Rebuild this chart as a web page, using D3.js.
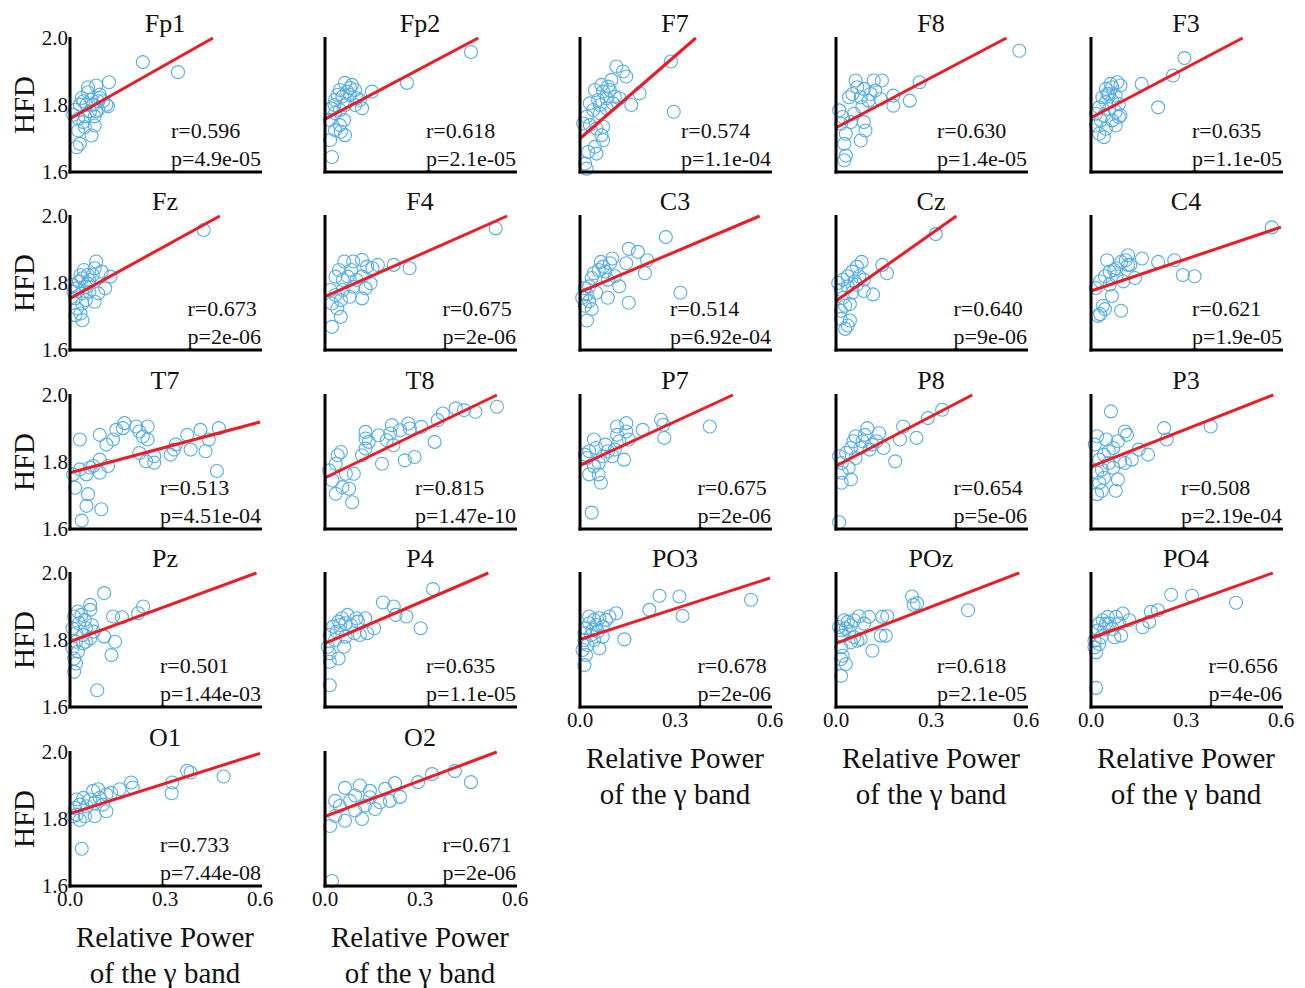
<!DOCTYPE html>
<html>
<head>
<meta charset="utf-8">
<script src="https://cdn.jsdelivr.net/npm/d3@7"></script>
<style>
  body { margin: 0; background: #fff; }
  text { font-family: "Times New Roman", "Liberation Serif", serif; fill: #111; }
</style>
</head>
<body>
<script>
// Channel names, stats text and regression fits
const channels = ["Fp1","Fp2","F7","F8","F3","Fz","F4","C3","Cz","C4","T7","T8","P7","P8","P3","Pz","P4","PO3","POz","PO4","O1","O2"];
const rText = ["0.596","0.618","0.574","0.630","0.635","0.673","0.675","0.514","0.640","0.621","0.513","0.815","0.675","0.654","0.508","0.501","0.635","0.678","0.618","0.656","0.733","0.671"];
const pText = ["4.9e-05","2.1e-05","1.1e-04","1.4e-05","1.1e-05","2e-06","2e-06","6.92e-04","9e-06","1.9e-05","4.51e-04","1.47e-10","2e-06","5e-06","2.19e-04","1.44e-03","1.1e-05","2e-06","2.1e-05","4e-06","7.44e-08","2e-06"];
const intercepts = [1.759,1.758,1.70,1.732,1.762,1.754,1.759,1.773,1.746,1.776,1.768,1.753,1.79,1.788,1.786,1.795,1.79,1.802,1.79,1.806,1.816,1.808];
const slopes = [0.534,0.50,0.82,0.498,0.497,0.52,0.419,0.40,0.668,0.318,0.252,0.455,0.435,0.493,0.372,0.348,0.407,0.305,0.363,0.338,0.30,0.354];

const xTicks = [0.0, 0.3, 0.6];
const yTicks = [1.6, 1.8, 2.0];

// scatter points [relative gamma power, HFD]
const Fp1 = [[0.230,1.928],[0.341,1.898],[0.123,1.868],[0.083,1.858],[0.057,1.853],[0.057,1.838],[0.037,1.821],[0.068,1.816],[0.094,1.821],[0.094,1.831],[0.104,1.811],[0.115,1.801],[0.120,1.796],[0.089,1.811],[0.073,1.801],[0.052,1.801],[0.031,1.801],[0.042,1.811],[0.016,1.786],[0.089,1.786],[0.063,1.781],[0.083,1.781],[0.010,1.771],[0.047,1.766],[0.078,1.766],[0.026,1.759],[0.042,1.749],[0.047,1.734],[0.078,1.739],[0.026,1.724],[0.068,1.709],[0.031,1.684],[0.021,1.674]];
const Fp2 = [[0.461,1.958],[0.259,1.866],[0.148,1.84],[0.063,1.866],[0.079,1.851],[0.047,1.845],[0.095,1.845],[0.079,1.83],[0.11,1.815],[0.032,1.815],[0.063,1.8],[0.095,1.8],[0.117,1.79],[0.047,1.785],[0.032,1.776],[0.016,1.755],[0.047,1.74],[0.032,1.725],[0.063,1.71],[0.016,1.695],[0.022,1.645],[0.055,1.825],[0.07,1.84],[0.04,1.83],[0.085,1.86],[0.1,1.82],[0.02,1.79],[0.06,1.755],[0.03,1.80],[0.05,1.72]];
const F7 = [[0.287,1.93],[0.296,1.78],[0.115,1.915],[0.136,1.90],[0.146,1.885],[0.099,1.875],[0.068,1.86],[0.047,1.845],[0.073,1.84],[0.094,1.845],[0.110,1.825],[0.084,1.82],[0.057,1.815],[0.125,1.82],[0.162,1.80],[0.188,1.835],[0.042,1.785],[0.021,1.765],[0.063,1.775],[0.084,1.79],[0.031,1.74],[0.052,1.73],[0.068,1.71],[0.073,1.695],[0.047,1.675],[0.026,1.66],[0.052,1.655],[0.016,1.625],[0.021,1.61],[0.010,1.745],[0.073,1.735],[0.089,1.855],[0.104,1.805],[0.031,1.805],[0.063,1.80]];
const F8 = [[0.579,1.962],[0.264,1.868],[0.233,1.813],[0.181,1.828],[0.181,1.798],[0.145,1.873],[0.119,1.873],[0.124,1.843],[0.103,1.813],[0.088,1.848],[0.078,1.823],[0.052,1.833],[0.041,1.823],[0.062,1.873],[0.083,1.794],[0.057,1.774],[0.021,1.764],[0.016,1.744],[0.047,1.749],[0.088,1.749],[0.093,1.724],[0.078,1.694],[0.031,1.714],[0.026,1.684],[0.031,1.649],[0.026,1.635],[0.109,1.833],[0.140,1.818],[0.067,1.853],[0.010,1.784]];
const F3 = [[0.295,1.94],[0.259,1.888],[0.160,1.863],[0.212,1.793],[0.093,1.858],[0.083,1.868],[0.067,1.853],[0.047,1.848],[0.057,1.833],[0.078,1.828],[0.036,1.823],[0.067,1.813],[0.047,1.808],[0.088,1.803],[0.026,1.793],[0.057,1.788],[0.078,1.779],[0.016,1.774],[0.041,1.769],[0.088,1.764],[0.093,1.769],[0.067,1.754],[0.031,1.754],[0.016,1.739],[0.078,1.739],[0.047,1.729],[0.026,1.714],[0.041,1.704],[0.052,1.833],[0.062,1.863]];
const Fz = [[0.422,1.958],[0.128,1.819],[0.111,1.784],[0.083,1.864],[0.078,1.844],[0.1,1.834],[0.056,1.824],[0.039,1.814],[0.061,1.809],[0.028,1.804],[0.05,1.789],[0.022,1.784],[0.011,1.774],[0.039,1.769],[0.061,1.774],[0.089,1.769],[0.078,1.744],[0.05,1.749],[0.017,1.754],[0.039,1.739],[0.022,1.724],[0.033,1.709],[0.017,1.704],[0.039,1.689],[0.056,1.799],[0.033,1.824],[0.072,1.824],[0.006,1.794],[0.044,1.839]];
const F4 = [[0.539,1.963],[0.267,1.844],[0.217,1.854],[0.167,1.854],[0.15,1.844],[0.117,1.869],[0.089,1.864],[0.061,1.864],[0.083,1.839],[0.133,1.849],[0.044,1.839],[0.033,1.819],[0.056,1.809],[0.072,1.819],[0.1,1.809],[0.144,1.799],[0.128,1.784],[0.089,1.789],[0.056,1.779],[0.017,1.779],[0.033,1.764],[0.078,1.759],[0.117,1.754],[0.050,1.749],[0.022,1.739],[0.039,1.724],[0.05,1.699],[0.022,1.669],[0.117,1.819]];
const C3 = [[0.271,1.937],[0.154,1.902],[0.183,1.893],[0.212,1.868],[0.205,1.829],[0.146,1.859],[0.102,1.873],[0.095,1.859],[0.066,1.863],[0.059,1.839],[0.08,1.834],[0.11,1.82],[0.124,1.79],[0.088,1.81],[0.037,1.815],[0.029,1.79],[0.015,1.785],[0.022,1.766],[0.051,1.771],[0.088,1.756],[0.029,1.746],[0.015,1.732],[0.037,1.722],[0.022,1.688],[0.154,1.741],[0.317,1.771],[0.007,1.756],[0.073,1.849],[0.044,1.829]];
const Cz = [[0.315,1.946],[0.146,1.854],[0.161,1.829],[0.081,1.863],[0.066,1.849],[0.051,1.834],[0.073,1.82],[0.037,1.82],[0.022,1.81],[0.059,1.805],[0.088,1.81],[0.037,1.79],[0.015,1.78],[0.051,1.771],[0.088,1.776],[0.117,1.766],[0.022,1.756],[0.029,1.732],[0.015,1.717],[0.044,1.737],[0.015,1.693],[0.037,1.673],[0.029,1.663],[0.044,1.688],[0.066,1.795],[0.007,1.8]];
const C4 = [[0.571,1.966],[0.263,1.868],[0.212,1.863],[0.161,1.873],[0.117,1.883],[0.124,1.854],[0.139,1.815],[0.29,1.824],[0.327,1.82],[0.110,1.868],[0.095,1.863],[0.117,1.854],[0.051,1.868],[0.08,1.844],[0.059,1.834],[0.044,1.82],[0.08,1.82],[0.102,1.805],[0.029,1.805],[0.059,1.795],[0.015,1.785],[0.066,1.761],[0.037,1.732],[0.044,1.722],[0.029,1.707],[0.022,1.702],[0.095,1.717],[0.073,1.839]];
const T7 = [[0.031,1.867],[0.094,1.881],[0.136,1.867],[0.146,1.896],[0.172,1.916],[0.167,1.901],[0.209,1.906],[0.219,1.891],[0.245,1.906],[0.230,1.876],[0.245,1.867],[0.115,1.852],[0.219,1.827],[0.240,1.802],[0.266,1.798],[0.266,1.817],[0.318,1.822],[0.328,1.837],[0.334,1.852],[0.370,1.881],[0.381,1.837],[0.412,1.896],[0.438,1.867],[0.47,1.901],[0.428,1.832],[0.464,1.773],[0.031,1.778],[0.052,1.763],[0.073,1.788],[0.094,1.807],[0.094,1.768],[0.120,1.788],[0.016,1.723],[0.057,1.704],[0.052,1.669],[0.099,1.659],[0.037,1.625],[0.063,1.783],[0.010,1.763]];
const T8 = [[0.543,1.965],[0.475,1.95],[0.439,1.955],[0.413,1.96],[0.372,1.945],[0.356,1.925],[0.346,1.86],[0.304,1.905],[0.263,1.915],[0.268,1.9],[0.237,1.895],[0.211,1.91],[0.206,1.885],[0.216,1.85],[0.195,1.865],[0.169,1.88],[0.180,1.795],[0.138,1.86],[0.128,1.84],[0.128,1.89],[0.128,1.87],[0.117,1.82],[0.252,1.805],[0.283,1.815],[0.05,1.83],[0.04,1.82],[0.034,1.795],[0.013,1.775],[0.024,1.745],[0.066,1.765],[0.091,1.765],[0.055,1.725],[0.076,1.72],[0.034,1.705],[0.086,1.68]];
const P7 = [[0.41,1.906],[0.256,1.926],[0.263,1.911],[0.266,1.872],[0.198,1.896],[0.146,1.916],[0.117,1.906],[0.146,1.891],[0.117,1.881],[0.154,1.867],[0.124,1.862],[0.080,1.852],[0.044,1.867],[0.051,1.842],[0.088,1.832],[0.110,1.837],[0.102,1.817],[0.073,1.817],[0.029,1.832],[0.022,1.812],[0.059,1.797],[0.139,1.807],[0.029,1.763],[0.059,1.763],[0.066,1.738],[0.015,1.822],[0.037,1.649],[0.044,1.787]];
const P8 = [[0.335,1.956],[0.29,1.931],[0.254,1.872],[0.212,1.906],[0.202,1.867],[0.150,1.842],[0.187,1.802],[0.136,1.886],[0.099,1.901],[0.091,1.881],[0.062,1.877],[0.055,1.862],[0.084,1.862],[0.114,1.852],[0.106,1.837],[0.077,1.842],[0.047,1.842],[0.032,1.827],[0.062,1.812],[0.018,1.797],[0.018,1.768],[0.040,1.783],[0.047,1.748],[0.018,1.738],[0.010,1.62],[0.010,1.817],[0.128,1.862]];
const P3 = [[0.063,1.951],[0.378,1.906],[0.231,1.901],[0.239,1.867],[0.180,1.822],[0.151,1.837],[0.129,1.807],[0.107,1.891],[0.114,1.881],[0.085,1.862],[0.07,1.842],[0.019,1.877],[0.012,1.852],[0.048,1.867],[0.041,1.822],[0.026,1.807],[0.056,1.797],[0.092,1.802],[0.107,1.797],[0.034,1.777],[0.07,1.783],[0.019,1.768],[0.041,1.753],[0.085,1.748],[0.026,1.738],[0.034,1.714],[0.078,1.714],[0.019,1.704],[0.056,1.832]];
const Pz = [[0.108,1.94],[0.231,1.90],[0.215,1.88],[0.164,1.868],[0.136,1.87],[0.142,1.795],[0.131,1.755],[0.086,1.65],[0.064,1.905],[0.064,1.89],[0.025,1.885],[0.036,1.875],[0.013,1.87],[0.047,1.86],[0.069,1.845],[0.028,1.85],[0.05,1.835],[0.008,1.835],[0.075,1.825],[0.019,1.82],[0.041,1.815],[0.064,1.805],[0.108,1.81],[0.05,1.795],[0.019,1.795],[0.008,1.775],[0.025,1.765],[0.013,1.745],[0.019,1.73],[0.013,1.705],[0.041,1.79]];
const P4 = [[0.341,1.952],[0.183,1.912],[0.217,1.90],[0.223,1.875],[0.257,1.87],[0.302,1.835],[0.155,1.835],[0.133,1.82],[0.127,1.865],[0.099,1.865],[0.104,1.855],[0.071,1.875],[0.054,1.865],[0.043,1.855],[0.065,1.85],[0.048,1.845],[0.082,1.845],[0.026,1.84],[0.037,1.825],[0.015,1.815],[0.093,1.82],[0.065,1.81],[0.032,1.80],[0.06,1.78],[0.009,1.78],[0.015,1.76],[0.043,1.745],[0.015,1.735],[0.015,1.665],[0.11,1.815]];
const PO3 = [[0.54,1.92],[0.314,1.93],[0.251,1.932],[0.219,1.89],[0.324,1.872],[0.14,1.802],[0.114,1.88],[0.093,1.87],[0.082,1.86],[0.061,1.865],[0.045,1.86],[0.029,1.85],[0.051,1.845],[0.072,1.84],[0.019,1.835],[0.04,1.83],[0.014,1.82],[0.035,1.815],[0.072,1.81],[0.014,1.80],[0.045,1.80],[0.024,1.785],[0.061,1.775],[0.019,1.755],[0.014,1.725],[0.008,1.77],[0.056,1.825],[0.029,1.87]];
const POz = [[0.417,1.889],[0.24,1.93],[0.256,1.91],[0.245,1.905],[0.162,1.871],[0.146,1.869],[0.104,1.869],[0.073,1.871],[0.157,1.813],[0.141,1.813],[0.115,1.768],[0.089,1.849],[0.057,1.859],[0.037,1.854],[0.026,1.859],[0.047,1.844],[0.031,1.834],[0.016,1.829],[0.042,1.824],[0.021,1.813],[0.057,1.808],[0.068,1.798],[0.047,1.793],[0.078,1.803],[0.016,1.778],[0.021,1.753],[0.031,1.728],[0.016,1.743],[0.016,1.693],[0.010,1.839]];
const PO4 = [[0.458,1.911],[0.253,1.935],[0.319,1.932],[0.211,1.889],[0.189,1.884],[0.184,1.854],[0.163,1.838],[0.1,1.879],[0.121,1.859],[0.089,1.849],[0.079,1.869],[0.053,1.869],[0.037,1.859],[0.026,1.849],[0.058,1.849],[0.068,1.833],[0.042,1.833],[0.021,1.828],[0.095,1.813],[0.074,1.808],[0.032,1.808],[0.011,1.798],[0.026,1.788],[0.011,1.778],[0.016,1.763],[0.016,1.657],[0.047,1.849]];
const O1 = [[0.485,1.927],[0.37,1.944],[0.381,1.939],[0.323,1.909],[0.321,1.877],[0.193,1.909],[0.198,1.894],[0.157,1.889],[0.13,1.878],[0.115,1.873],[0.089,1.889],[0.073,1.884],[0.094,1.863],[0.063,1.858],[0.042,1.863],[0.021,1.858],[0.031,1.843],[0.016,1.833],[0.052,1.838],[0.078,1.848],[0.104,1.843],[0.115,1.823],[0.021,1.813],[0.047,1.808],[0.031,1.797],[0.078,1.808],[0.037,1.711],[0.010,1.808]];
const O2 = [[0.461,1.91],[0.41,1.943],[0.338,1.934],[0.294,1.91],[0.221,1.907],[0.19,1.89],[0.142,1.884],[0.11,1.9],[0.063,1.893],[0.079,1.854],[0.047,1.839],[0.032,1.809],[0.016,1.779],[0.022,1.615],[0.174,1.85],[0.237,1.866],[0.095,1.825],[0.126,1.84],[0.158,1.83],[0.205,1.854],[0.063,1.795],[0.095,1.87],[0.142,1.865],[0.032,1.854],[0.117,1.8]];

const points = [Fp1,Fp2,F7,F8,F3,Fz,F4,C3,Cz,C4,T7,T8,P7,P8,P3,Pz,P4,PO3,POz,PO4,O1,O2];

// layout
const W = 1305, H = 988;
const plotW = 190, plotH = 134;
const colX = [70, 325, 580, 836, 1091];
const rowY = [38, 216, 395, 573, 752];
const bottomRow = ["PO3","POz","PO4","O1","O2"];

const svg = d3.select("body").append("svg")
  .attr("width", W)
  .attr("height", H);

const x = d3.scaleLinear().domain([0, 0.6]).range([0, plotW]);
const y = d3.scaleLinear().domain([1.6, 2.0]).range([plotH, 0]);

channels.forEach(function(ch, i) {
  const col = i % 5, row = Math.floor(i / 5);
  const g = svg.append("g")
    .attr("transform", "translate(" + colX[col] + "," + rowY[row] + ")");

  // points
  g.selectAll("circle")
    .data(points[i])
    .enter().append("circle")
    .attr("cx", d => x(d[0]))
    .attr("cy", d => y(d[1]))
    .attr("r", 6.5)
    .style("fill", "none")
    .style("stroke", "#55aee6")
    .style("stroke-width", 1.1);

  // regression line, clipped at the top of the axis
  const b0 = intercepts[i], b1 = slopes[i];
  const xEnd = Math.min(0.6, (2.0 - b0) / b1);
  g.append("line")
    .attr("x1", x(0)).attr("y1", y(b0))
    .attr("x2", x(xEnd)).attr("y2", y(b0 + b1 * xEnd))
    .style("stroke", "#ec1c24")
    .style("stroke-width", 3);

  // axes
  g.append("line")
    .attr("x1", 0).attr("y1", -1).attr("x2", 0).attr("y2", plotH + 1.5)
    .style("stroke", "#000").style("stroke-width", 3);
  g.append("line")
    .attr("x1", -1.5).attr("y1", plotH).attr("x2", plotW + 2).attr("y2", plotH)
    .style("stroke", "#000").style("stroke-width", 3);

  // title
  g.append("text")
    .attr("x", plotW / 2).attr("y", -6)
    .attr("text-anchor", "middle")
    .style("font-size", "26px")
    .text(ch);

  // stats
  const pT = g.append("text")
    .attr("x", plotW + 1).attr("y", 128)
    .attr("text-anchor", "end")
    .style("font-size", "22px")
    .text("p=" + pText[i]);
  const pLen = pT.node().getComputedTextLength();
  g.append("text")
    .attr("x", plotW + 1 - pLen).attr("y", 100)
    .style("font-size", "22px")
    .text("r=" + rText[i]);

  // y ticks + label on first column
  if (col === 0) {
    g.selectAll(".ytick")
      .data(yTicks)
      .enter().append("text")
      .attr("class", "ytick")
      .attr("x", -2)
      .attr("y", d => y(d))
      .attr("dy", "0.35em")
      .attr("text-anchor", "end")
      .style("font-size", "21px")
      .text(d => d.toFixed(1));
    g.append("text")
      .attr("transform", "translate(-36," + (plotH / 2) + ") rotate(-90)")
      .attr("text-anchor", "middle")
      .style("font-size", "29px")
      .text("HFD");
  }

  // x ticks + label on bottom panels
  if (bottomRow.indexOf(ch) >= 0) {
    g.selectAll(".xtick")
      .data(xTicks)
      .enter().append("text")
      .attr("class", "xtick")
      .attr("x", d => x(d))
      .attr("y", plotH + 20)
      .attr("text-anchor", "middle")
      .style("font-size", "21px")
      .text(d => d.toFixed(1));
    g.append("text")
      .attr("x", plotW / 2).attr("y", plotH + 61)
      .attr("text-anchor", "middle")
      .style("font-size", "29px")
      .text("Relative Power");
    g.append("text")
      .attr("x", plotW / 2).attr("y", plotH + 97)
      .attr("text-anchor", "middle")
      .style("font-size", "29px")
      .text("of the γ band");
  }
});
</script>
</body>
</html>
